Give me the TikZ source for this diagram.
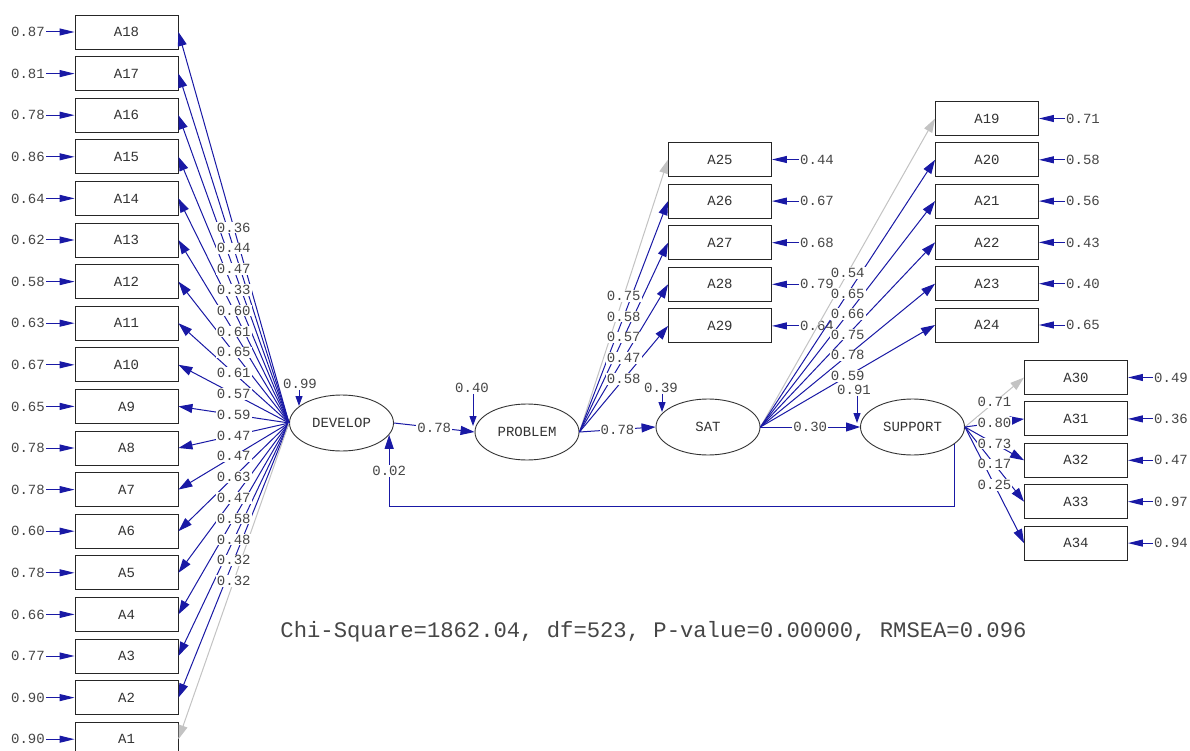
\documentclass[tikz,border=0pt]{standalone}
\usepackage{fontspec}
\newfontfamily\cour{Liberation Mono}
\usetikzlibrary{arrows.meta,shapes.geometric,calc}
\definecolor{lb}{RGB}{25,25,165}
\definecolor{lg}{RGB}{195,195,195}
\definecolor{tg}{RGB}{70,70,70}
\begin{document}
\begin{tikzpicture}[x=1pt,y=-1pt,
 every node/.style={font=\cour\fontsize{14}{16}\selectfont, text=tg},
 obs/.style={draw=black!85, line width=0.9pt, minimum width=103pt, minimum height=34pt, inner sep=0pt, text=black!80},
 lat/.style={draw=black!80, ellipse, line width=0.9pt, minimum width=104pt, minimum height=56pt, inner sep=0pt, text=black!80},
 lab/.style={fill=white, inner sep=1pt},
 elab/.style={inner sep=1pt},
 blu/.style={lb, line width=1pt, -{Triangle[length=14pt,width=9pt]}},
 gry/.style={lg, line width=1pt, -{Triangle[length=14pt,width=9pt]}},
 err/.style={lb, line width=1pt, -{Triangle[length=15pt,width=7pt]}},
 res/.style={lb, line width=1pt, -{Triangle[length=10pt,width=7pt]}}]
\useasboundingbox (0,0) rectangle (1190,751);
\fill[white] (0,0) rectangle (1190,751);

% latent variables
\node[lat] (dev) at (341.5,423) {DEVELOP};
\node[lat] (prob) at (527,432) {PROBLEM};
\node[lat] (sat) at (708,427) {SAT};
\node[lat] (sup) at (912.5,427) {SUPPORT};

% left indicators
\foreach \k/\er [count=\i from 0] in {18/0.87,17/0.81,16/0.78,15/0.86,14/0.64,13/0.62,12/0.58,11/0.63,10/0.67,9/0.65,8/0.78,7/0.78,6/0.60,5/0.78,4/0.66,3/0.77,2/0.90,1/0.90}{
  \node[obs] (a\k) at ({126.5},{32+41.6*\i}) {A\k};
  \node[elab, anchor=east] (e\k) at ({46},{32+41.6*\i}) {\er};
  \draw[err] (e\k) -- (a\k);
}
% problem indicators
\foreach \k/\er [count=\i from 0] in {25/0.44,26/0.67,27/0.68,28/0.79,29/0.64}{
  \node[obs] (a\k) at ({720},{159.5+41.6*\i}) {A\k};
  \node[elab, anchor=west] (e\k) at ({799},{159.5+41.6*\i}) {\er};
  \draw[err] (e\k) -- (a\k);
}
% sat indicators
\foreach \k/\er [count=\i from 0] in {19/0.71,20/0.58,21/0.56,22/0.43,23/0.40,24/0.65}{
  \node[obs] (a\k) at ({987},{118.5+41.3*\i}) {A\k};
  \node[elab, anchor=west] (e\k) at ({1065},{118.5+41.3*\i}) {\er};
  \draw[err] (e\k) -- (a\k);
}
% support indicators
\foreach \k/\er [count=\i from 0] in {30/0.49,31/0.36,32/0.47,33/0.97,34/0.94}{
  \node[obs] (a\k) at ({1076},{377.5+41.4*\i}) {A\k};
  \node[elab, anchor=west] (e\k) at ({1153},{377.5+41.4*\i}) {\er};
  \draw[err] (e\k) -- (a\k);
}

% loadings lines
\foreach \k in {18,17,...,2} \draw[blu] (dev.west) -- (a\k.east);
\draw[gry] (dev.west) -- (a1.east);
\draw[gry] (prob.east) -- (a25.west);
\foreach \k in {26,...,29} \draw[blu] (prob.east) -- (a\k.west);
\draw[gry] (sat.east) -- (a19.west);
\foreach \k in {20,...,24} \draw[blu] (sat.east) -- (a\k.west);
\draw[gry] (sup.east) -- (a30.west);
\foreach \k in {31,...,34} \draw[blu] (sup.east) -- (a\k.west);

% loading labels
\foreach \k/\ld in {18/0.36,17/0.44,16/0.47,15/0.33,14/0.60,13/0.61,12/0.65,11/0.61,10/0.57,9/0.59,8/0.47,7/0.47,6/0.63,5/0.47,4/0.58,3/0.48,2/0.32,1/0.32}
  \node[lab] (l\k) at ($(dev.west)!0.5!(a\k.east)$) {\ld};
\foreach \k/\ld in {25/0.75,26/0.58,27/0.57,28/0.47,29/0.58}
  \node[lab] (l\k) at ($(prob.east)!0.5!(a\k.west)$) {\ld};
\foreach \k/\ld in {19/0.54,20/0.65,21/0.66,22/0.75,23/0.78,24/0.59}
  \node[lab] (l\k) at ($(sat.east)!0.5!(a\k.west)$) {\ld};
\foreach \k/\ld in {30/0.71,31/0.80,32/0.73,33/0.17,34/0.25}
  \node[lab] (l\k) at ($(sup.east)!0.5!(a\k.west)$) {\ld};

% structural paths
\draw[blu] (dev.east) -- (prob.west) node[lab, midway] (s1) {0.78};
\draw[blu] (prob.east) -- (sat.west) node[lab, midway] (s2) {0.78};
\draw[blu] (sat.east) -- (sup.west) node[lab, midway] (s3) {0.30};
\draw[blu] (sup.-22) -- ++(0,63) -| (dev.-14) node[lab, pos=0.75] (s4) {0.02};

% structural residuals
\node[elab] (zd) at (300,384) {0.99};
\coordinate (zdt) at (299,406);
\draw[res] (zd.south -| zdt) -- (zdt);
\node[elab] (zp) at (472,388) {0.40};
\coordinate (zpt) at (473,426);
\draw[res] (zp.south -| zpt) -- (zpt);
\node[elab] (zs) at (661,388) {0.39};
\coordinate (zst) at (662,412);
\draw[res] (zs.south -| zst) -- (zst);
\node[elab] (zu) at (854,390) {0.91};
\coordinate (zut) at (857,423);
\draw[res] (zu.south -| zut) -- (zut);

% fit statistics
\node[font=\cour\fontsize{22.2}{24}\selectfont] (chi) at (653.5,632) {Chi-Square=1862.04, df=523, P-value=0.00000, RMSEA=0.096};
\end{tikzpicture}
\end{document}
